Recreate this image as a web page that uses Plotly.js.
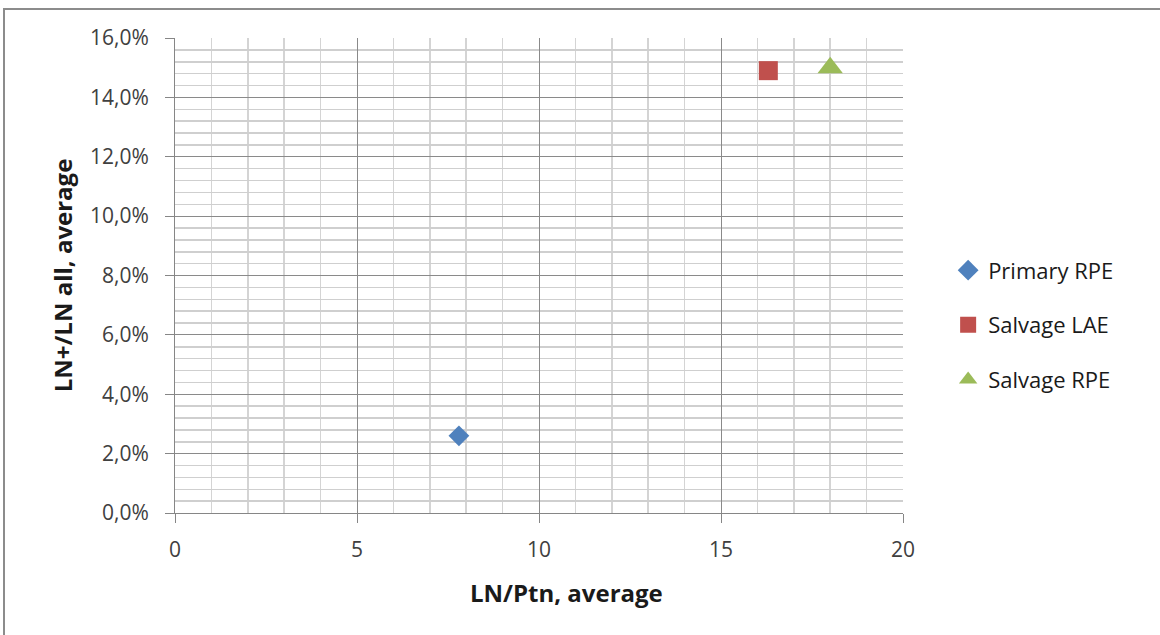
<!DOCTYPE html>
<html>
<head>
<meta charset="utf-8">
<script src="https://cdn.plot.ly/plotly-3.0.1.min.js"></script>
<style>
html,body{margin:0;padding:0;background:#fff;}
#chart{width:1160px;height:635px;}
#frame{position:absolute;left:3px;top:8px;width:1200px;height:700px;border-top:2px solid #8c8c8c;border-left:2px solid #8c8c8c;pointer-events:none;}
</style>
</head>
<body>
<div id="chart"></div>
<div id="frame"></div>
<script>
const seriesNames = ["Primary RPE", "Salvage LAE", "Salvage RPE"];
const xValues = [7.8, 16.3, 18.0];
const yValues = [0.026, 0.149, 0.150];
const colors = ["#4F81BD", "#C0504D", "#9BBB59"];
const symbols = ["diamond", "square", "triangle-up"];
const sizes = [16, 19, 22];

const FONT = "'Open Sans', sans-serif";

const traces = seriesNames.map((n, i) => ({
  type: "scatter",
  mode: "markers",
  name: n,
  legendgroup: "g" + i,
  x: [xValues[i]],
  y: [yValues[i]],
  marker: {color: colors[i], symbol: symbols[i], size: sizes[i], line: {width: 0}}
}));

const layout = {
  width: 1160, height: 635,
  margin: {l: 175, r: 257, t: 38, b: 122},
  paper_bgcolor: "#fff", plot_bgcolor: "#fff",
  separators: ",.",
  font: {family: FONT, color: "#404040", size: 21},
  showlegend: true,
  legend: {x: 1.062, y: 0.396, xanchor: "left", yanchor: "middle",
           font: {size: 22, color: "#1a1a1a"}, tracegroupgap: 23, itemsizing: "trace",
           itemwidth: 30},
  xaxis: {
    range: [0, 20], dtick: 5, tick0: 0,
    showline: true, linecolor: "#868686", linewidth: 1,
    showgrid: true, gridcolor: "#8a8a8a", gridwidth: 1,
    ticks: "outside", ticklen: 9, tickcolor: "#868686",
    ticklabelstandoff: 9,
    zeroline: false,
    minor: {dtick: 1, showgrid: true, gridcolor: "#d4d4d4", gridwidth: 1.5, ticks: ""},
    tickfont: {size: 21, color: "#404040"},
    fixedrange: true
  },
  yaxis: {
    range: [0, 0.16], dtick: 0.02, tick0: 0, tickformat: ".1%",
    showline: true, linecolor: "#868686", linewidth: 1,
    showgrid: true, gridcolor: "#8a8a8a", gridwidth: 1,
    ticks: "outside", ticklen: 9, tickcolor: "#868686",
    ticklabelstandoff: 12,
    zeroline: false,
    minor: {dtick: 0.004, showgrid: true, gridcolor: "#cfcfcf", gridwidth: 1.5, ticks: ""},
    tickfont: {size: 21, color: "#404040"},
    title: {text: "<b>LN+/LN all, average</b>", font: {size: 24, color: "#1a1a1a"}, standoff: 10},
    fixedrange: true
  },
  annotations: [{
    text: "<b>LN/Ptn, average</b>", xref: "paper", yref: "paper",
    x: 0.538, y: -0.168, xanchor: "center", yanchor: "middle", showarrow: false,
    font: {size: 24, color: "#1a1a1a", family: FONT}
  }]
};

Plotly.newPlot("chart", traces, layout, {displayModeBar: false, staticPlot: true});
</script>
</body>
</html>
